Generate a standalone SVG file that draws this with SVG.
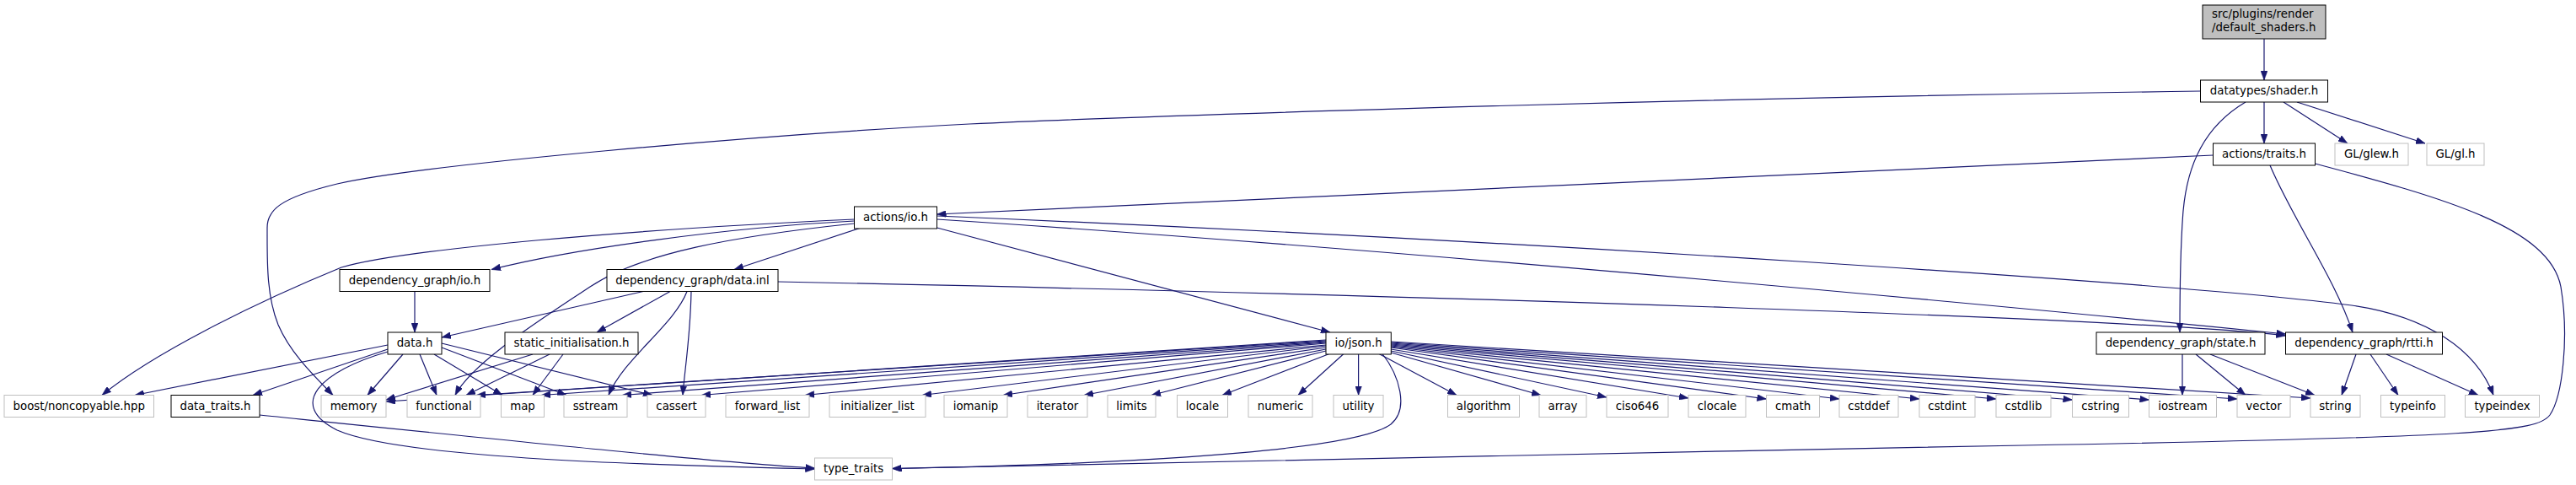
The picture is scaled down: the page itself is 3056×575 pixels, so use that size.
<svg xmlns="http://www.w3.org/2000/svg" width="3056" height="575" viewBox="0 0 3056 575">
<style>
text{font-family:"DejaVu Sans","Liberation Sans",sans-serif;font-size:13.33px;fill:#000;text-anchor:middle}
.d rect{fill:#fff;stroke:#000;stroke-width:1}
.x rect{fill:#fff;stroke:#bfbfbf;stroke-width:1}
.r rect{fill:#bfbfbf;stroke:#000;stroke-width:1}
#edges path{fill:none;stroke:#191970;stroke-width:1.2;marker-end:url(#ah)}
</style>
<defs>
<marker id="ah" markerUnits="userSpaceOnUse" markerWidth="11" markerHeight="8" refX="11" refY="4" orient="auto">
<path d="M0,0 L11,4 L0,8 z" fill="#191970" stroke="#191970" stroke-width="0.5"/>
</marker>
</defs>
<rect width="3056" height="575" fill="#fff"/>
<g id="edges">
<path d="M2686,46 V95"/>
<path d="M2686,121 V170"/>
<path d="M2709,121 L2785,170"/>
<path d="M2725,121 L2877,170"/>
<path d="M2610.5,108 C1900,118 1300,140 1150,147 C900,160 500,195 400,218 C330,235 317,250 317,270 C317,310 316,350 330,385 C345,420 375,448 395,468.5"/>
<path d="M1013.5,260 C750,272 480,295 405,317 C300,360 180,420 121,468.5"/>
<path d="M1013.5,262 C860,270 680,295 583,319.5"/>
<path d="M1013.5,265 C870,280 760,300 700,340 C640,380 560,430 540,468.5"/>
<path d="M1020,270.5 L871,319.5"/>
<path d="M1111.5,270 L1578,394"/>
<path d="M1111.5,260 C1700,298 2450,370 2711.5,396"/>
<path d="M1111.5,256 C1800,285 2580,335 2790,362 C2880,375 2938,415 2958,468.5"/>
<path d="M2625.5,184 L1111.5,254"/>
<path d="M2693,196 C2720,260 2770,330 2791,394"/>
<path d="M2746.5,194 C2900,235 3025,270 3038,340 C3048,400 3040,470 3025,492 C3010,512 2950,518 2400,528 C1900,537 1300,552 1058.5,555.5"/>
<path d="M2664,121 C2615,150 2595,195 2590,250 C2586,300 2586,350 2586,394"/>
<path d="M492,345.5 V394"/>
<path d="M763,345.5 L524,400"/>
<path d="M795,345.5 L708,394"/>
<path d="M815,345.5 C800,385 740,425 722,468.5"/>
<path d="M820,345.5 C819,400 812,440 810,468.5"/>
<path d="M923,334 C1700,350 2550,378 2711.5,398"/>
<path d="M460,409 L160,468.5"/>
<path d="M460,414 L300,468.5"/>
<path d="M460,417 C380,440 340,480 400,510 C480,545 800,552 966.5,556"/>
<path d="M478,420 L436,468.5"/>
<path d="M498,420 L518,468.5"/>
<path d="M515,420 L596,468.5"/>
<path d="M524,412 L672,468.5"/>
<path d="M524,407 L774,468.5"/>
<path d="M632,420 L458,474"/>
<path d="M652,420 L553,468.5"/>
<path d="M668,420 L632,468.5"/>
<path d="M308,492 C600,522 850,548 966.5,555"/>
<path d="M1573,403 L458,476"/>
<path d="M1573,404 L565,468.5"/>
<path d="M1573,405 L642,468.5"/>
<path d="M1573,406 L738,468.5"/>
<path d="M1573,407 L832,468.5"/>
<path d="M1573,409 L955,468.5"/>
<path d="M1573,410 L1094,468.5"/>
<path d="M1573,412 L1190,468.5"/>
<path d="M1573,414 L1286,468.5"/>
<path d="M1573,416 L1366,468.5"/>
<path d="M1577,419.5 L1450,468.5"/>
<path d="M1594,419.5 L1540,468.5"/>
<path d="M1611.6,419.5 V468.5"/>
<path d="M1636,419.5 L1728,468.5"/>
<path d="M1650,418 L1828,468.5"/>
<path d="M1650,416 L1906,471"/>
<path d="M1650,414 L2003,472"/>
<path d="M1650,412 L2095.5,473"/>
<path d="M1650,411 L2182,473"/>
<path d="M1650,410 L2277,473"/>
<path d="M1650,409 L2368,473"/>
<path d="M1650,408 L2458.5,474"/>
<path d="M1650,407 L2549.5,474"/>
<path d="M1650,406 L2654,473"/>
<path d="M1650,405 L2741,472"/>
<path d="M1640,419.5 C1660,445 1672,485 1650,503 C1600,540 1250,552 1058.5,555.5"/>
<path d="M2589,420 V468.5"/>
<path d="M2605,420 L2664,468.5"/>
<path d="M2622,420 L2746,468.5"/>
<path d="M2795,420 L2778,468.5"/>
<path d="M2812,420 L2845,468.5"/>
<path d="M2831,420 L2940,468.5"/>
</g>
<g id="n_root" class="r"><rect x="2613" y="6" width="146" height="40"/><text x="2624" y="21" style="text-anchor:start">src/plugins/render</text><text x="2624" y="37" style="text-anchor:start">/default_shaders.h</text></g>
<g id="n_shader" class="d"><rect x="2610.5" y="95" width="151" height="26"/><text x="2686" y="112.3">datatypes/shader.h</text></g>
<g id="n_traits" class="d"><rect x="2625.5" y="170" width="121" height="26"/><text x="2686" y="187.3">actions/traits.h</text></g>
<g id="n_glew" class="x"><rect x="2770" y="170" width="87" height="26"/><text x="2813.5" y="187.3">GL/glew.h</text></g>
<g id="n_gl" class="x"><rect x="2879" y="170" width="68" height="26"/><text x="2913" y="187.3">GL/gl.h</text></g>
<g id="n_actio" class="d"><rect x="1013.5" y="245" width="98" height="26"/><text x="1062.5" y="262.3">actions/io.h</text></g>
<g id="n_dgio" class="d"><rect x="403" y="319.5" width="178" height="26"/><text x="492" y="336.8">dependency_graph/io.h</text></g>
<g id="n_datainl" class="d"><rect x="720" y="319.5" width="203" height="26"/><text x="821.5" y="336.8">dependency_graph/data.inl</text></g>
<g id="n_datah" class="d"><rect x="460" y="394" width="64" height="26"/><text x="492" y="411.3">data.h</text></g>
<g id="n_static" class="d"><rect x="599" y="394" width="158" height="26"/><text x="678" y="411.3">static_initialisation.h</text></g>
<g id="n_json" class="d"><rect x="1573" y="394" width="77.3" height="26"/><text x="1611.6" y="411.3">io/json.h</text></g>
<g id="n_state" class="d"><rect x="2487" y="394" width="200" height="26"/><text x="2587" y="411.3">dependency_graph/state.h</text></g>
<g id="n_rtti" class="d"><rect x="2711.5" y="394" width="186" height="26"/><text x="2804.5" y="411.3">dependency_graph/rtti.h</text></g>
<g id="n_boost" class="x"><rect x="5" y="468.5" width="177.5" height="26"/><text x="93.75" y="485.8">boost/noncopyable.hpp</text></g>
<g id="n_datatraits" class="d"><rect x="203" y="468.5" width="105" height="26"/><text x="255.5" y="485.8">data_traits.h</text></g>
<g id="n_memory" class="x"><rect x="381" y="468.5" width="77" height="26"/><text x="419.5" y="485.8">memory</text></g>
<g id="n_functional" class="x"><rect x="483" y="468.5" width="87" height="26"/><text x="526.5" y="485.8">functional</text></g>
<g id="n_map" class="x"><rect x="594.5" y="468.5" width="51" height="26"/><text x="620" y="485.8">map</text></g>
<g id="n_sstream" class="x"><rect x="669" y="468.5" width="75" height="26"/><text x="706.5" y="485.8">sstream</text></g>
<g id="n_cassert" class="x"><rect x="768" y="468.5" width="69" height="26"/><text x="802.5" y="485.8">cassert</text></g>
<g id="n_forward_list" class="x"><rect x="861" y="468.5" width="99" height="26"/><text x="910.5" y="485.8">forward_list</text></g>
<g id="n_initializer_list" class="x"><rect x="984" y="468.5" width="114" height="26"/><text x="1041" y="485.8">initializer_list</text></g>
<g id="n_iomanip" class="x"><rect x="1120" y="468.5" width="75" height="26"/><text x="1157.5" y="485.8">iomanip</text></g>
<g id="n_iterator" class="x"><rect x="1219" y="468.5" width="71" height="26"/><text x="1254.5" y="485.8">iterator</text></g>
<g id="n_limits" class="x"><rect x="1314" y="468.5" width="57" height="26"/><text x="1342.5" y="485.8">limits</text></g>
<g id="n_locale" class="x"><rect x="1396.5" y="468.5" width="60" height="26"/><text x="1426.5" y="485.8">locale</text></g>
<g id="n_numeric" class="x"><rect x="1481" y="468.5" width="76" height="26"/><text x="1519" y="485.8">numeric</text></g>
<g id="n_utility" class="x"><rect x="1582" y="468.5" width="59" height="26"/><text x="1611.5" y="485.8">utility</text></g>
<g id="n_algorithm" class="x"><rect x="1717.5" y="468.5" width="85" height="26"/><text x="1760" y="485.8">algorithm</text></g>
<g id="n_array" class="x"><rect x="1826" y="468.5" width="56" height="26"/><text x="1854" y="485.8">array</text></g>
<g id="n_ciso646" class="x"><rect x="1906" y="468.5" width="73" height="26"/><text x="1942.5" y="485.8">ciso646</text></g>
<g id="n_clocale" class="x"><rect x="2003" y="468.5" width="68" height="26"/><text x="2037" y="485.8">clocale</text></g>
<g id="n_cmath" class="x"><rect x="2095.5" y="468.5" width="63" height="26"/><text x="2127" y="485.8">cmath</text></g>
<g id="n_cstddef" class="x"><rect x="2182" y="468.5" width="70" height="26"/><text x="2217" y="485.8">cstddef</text></g>
<g id="n_cstdint" class="x"><rect x="2277" y="468.5" width="66" height="26"/><text x="2310" y="485.8">cstdint</text></g>
<g id="n_cstdlib" class="x"><rect x="2368" y="468.5" width="65" height="26"/><text x="2400.5" y="485.8">cstdlib</text></g>
<g id="n_cstring" class="x"><rect x="2458.5" y="468.5" width="67" height="26"/><text x="2492" y="485.8">cstring</text></g>
<g id="n_iostream" class="x"><rect x="2549.5" y="468.5" width="80" height="26"/><text x="2589.5" y="485.8">iostream</text></g>
<g id="n_vector" class="x"><rect x="2654" y="468.5" width="63" height="26"/><text x="2685.5" y="485.8">vector</text></g>
<g id="n_string" class="x"><rect x="2741" y="468.5" width="59" height="26"/><text x="2770.5" y="485.8">string</text></g>
<g id="n_typeinfo" class="x"><rect x="2824.5" y="468.5" width="76" height="26"/><text x="2862.5" y="485.8">typeinfo</text></g>
<g id="n_typeindex" class="x"><rect x="2924.5" y="468.5" width="88" height="26"/><text x="2968.5" y="485.8">typeindex</text></g>
<g id="n_type_traits" class="x"><rect x="966.5" y="543" width="92" height="26"/><text x="1012.5" y="560.3">type_traits</text></g>
</svg>
